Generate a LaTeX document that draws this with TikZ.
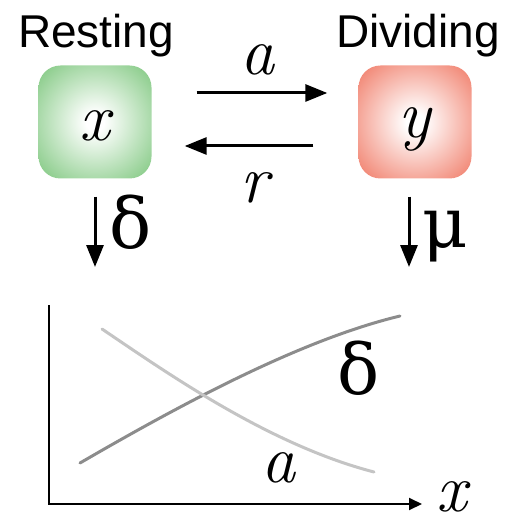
\documentclass[tikz,border=0pt]{standalone}
\usepackage{fontspec}
\newfontfamily\helv{Liberation Sans}
\newfontfamily\greekf{DejaVu Serif}
\usetikzlibrary{arrows.meta}

\definecolor{restgreen}{HTML}{6CBF6C}
\definecolor{divred}{HTML}{EE6750}
\definecolor{deltagray}{HTML}{8C8C8C}
\definecolor{agray}{HTML}{C4C4C4}
\pgfdeclareradialshading{restglow}{\pgfpoint{0bp}{0bp}}{color(0bp)=(white); color(4bp)=(white); color(40bp)=(restgreen); color(72bp)=(restgreen)}
\pgfdeclareradialshading{divglow}{\pgfpoint{0bp}{0bp}}{color(0bp)=(white); color(4bp)=(white); color(40bp)=(divred); color(72bp)=(divred)}

\tikzset{
  cellbox/.style={minimum size=113pt, inner sep=0pt, rounded corners=22pt},
  statelbl/.style={anchor=base, inner sep=0pt, font=\helv\fontsize{46}{50}\selectfont},
  varlbl/.style={anchor=base, inner sep=0pt, font=\itshape\fontsize{68}{72}\selectfont},
  greeklbl/.style={anchor=base, inner sep=0pt, font=\greekf\fontsize{70}{74}\selectfont},
  rate/.style={line width=3pt, -{Triangle[length=22pt,width=17pt]}},
  curve/.style={line width=3pt, line cap=round}
}

\begin{document}
\begin{tikzpicture}[x=1pt, y=-1pt]
  \useasboundingbox (0,0) rectangle (504,518);

  % states
  \node[statelbl] (restlbl) at (96,48) {Resting};
  \node[statelbl] (divlbl) at (418,48) {Dividing};
  \node[cellbox, shading=restglow] (rest) at (95,122) {};
  \node[cellbox, shading=divglow] (div) at (415,122) {};
  \node[varlbl] (xvar) at (95,141) {x};
  \node[varlbl] (yvar) at (415,138) {y};

  % transitions
  \draw[rate, shorten <=45pt, shorten >=31pt] ([yshift=29pt]rest.east) -- ([yshift=29pt]div.west);
  \draw[rate, shorten <=45pt, shorten >=33pt] ([yshift=-24pt]div.west) -- ([yshift=-24pt]rest.east);
  \node[varlbl] (alpha) at (257,75) {a};
  \node[varlbl] (rlbl) at (255,203) {r};

  % losses
  \coordinate (restout) at (95,267);
  \coordinate (divout) at (409,267);
  \draw[rate, shorten <=18pt] (rest.south) -- (restout);
  \draw[rate, shorten <=18pt] ([xshift=-6pt]div.south) -- (divout);
  \node[greeklbl] (dlbl) at (131,248) {δ};
  \node[greeklbl] (mlbl) at (445,247) {μ};

  % plot
  \coordinate (ytop) at (49,305);
  \coordinate (orig) at (49,504);
  \coordinate (xtip) at (422,504);
  \draw[line width=2pt, -{Triangle[length=13pt,width=12pt]}] (ytop) -- (orig) -- (xtip);
  \node[varlbl] (xaxis) at (452,511) {x};
  \draw[curve, deltagray] (80,463) .. controls (180,405) and (300,340) .. (400,316);
  \draw[curve, agray] (102,329) .. controls (170,375) and (270,445) .. (374,472);
  \node[greeklbl] (dcurve) at (359,394) {δ};
  \node[varlbl] (acurve) at (278,482) {a};
\end{tikzpicture}
\end{document}
